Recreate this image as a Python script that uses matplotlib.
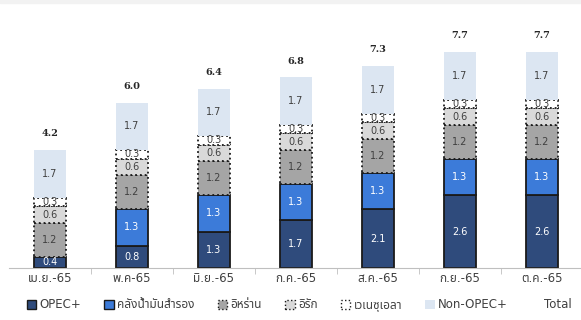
import numpy as np
import matplotlib.pyplot as plt
from matplotlib.patches import Patch

months = ['เม.ย.-65', 'พ.ค-65', 'มิ.ย.-65', 'ก.ค.-65', 'ส.ค.-65', 'ก.ย.-65', 'ต.ค.-65']
opec = [0.4, 0.8, 1.3, 1.7, 2.1, 2.6, 2.6]
reserve = [0.0, 1.3, 1.3, 1.3, 1.3, 1.3, 1.3]
iran = [1.2, 1.2, 1.2, 1.2, 1.2, 1.2, 1.2]
iraq = [0.6, 0.6, 0.6, 0.6, 0.6, 0.6, 0.6]
venezuela = [0.3, 0.3, 0.3, 0.3, 0.3, 0.3, 0.3]
non_opec = [1.7, 1.7, 1.7, 1.7, 1.7, 1.7, 1.7]
totals = [4.2, 6.0, 6.4, 6.8, 7.3, 7.7, 7.7]

names = ['OPEC+', 'คลังน้ำมันสำรอง', 'อิหร่าน', 'อิรัก', 'เวเนซุเอลา', 'Non-OPEC+', 'Total']

plt.rcParams['font.family'] = ['DejaVu Sans', 'Noto Sans Thai', 'Tahoma', 'Loma', 'Garuda', 'Noto Sans']

series = [
    # values, face, edge, linestyle, text colour
    (opec, '#2F4B7C', '#1a1a1a', '-', 'white'),
    (reserve, '#3C7BD9', '#1a1a1a', '-', 'white'),
    (iran, '#A5A5A5', '#1a1a1a', ':', '#404040'),
    (iraq, '#D9D9D9', '#1a1a1a', ':', '#404040'),
    (venezuela, '#FFFFFF', '#1a1a1a', ':', '#404040'),
    (non_opec, '#DCE6F2', 'none', '-', '#404040'),
]

fig = plt.figure(figsize=(5.81, 3.2), dpi=100)
ax = fig.add_axes([9 / 581, 52 / 320, 574 / 581, 258 / 320])
x = np.arange(len(months))
w = 0.4
bottom = np.zeros(len(months))
handles = []
for (vals, fc, ec, ls, tc), name in zip(series, names):
    vals = np.array(vals)
    lw = [0 if v == 0 else 1.3 for v in vals]
    if ec == 'none':
        lw = 0
    ax.bar(x, vals, w, bottom=bottom, color=fc, edgecolor=ec, linewidth=lw, linestyle=ls)
    for xi, b, v in zip(x, bottom, vals):
        if v > 0:
            ax.text(xi, b + v / 2, f'{v:.1f}', ha='center', va='center', fontsize=7, color=tc)
    bottom += vals
    handles.append(Patch(facecolor=fc, edgecolor=ec, linestyle=ls, linewidth=1.0 if ec != 'none' else 0, label=name))

for xi, b, t in zip(x, bottom, totals):
    ax.text(xi, b + 0.42, f'{t:.1f}', ha='center', va='bottom', fontsize=7, fontweight='bold', color='#262626',
            family='DejaVu Serif')

handles.append(Patch(facecolor='none', edgecolor='none', label='Total'))

ax.set_xlim(-0.5, 6.5)
ax.set_ylim(0, 9.2)
ax.set_xticks(x)
ax.set_xticklabels(months, fontsize=8.5, color='#404040')
ax.set_xticks(np.arange(0.5, 6.5, 1), minor=True)
ax.tick_params(axis='x', which='major', length=0, pad=3)
ax.tick_params(axis='x', which='minor', length=4, color='#BFBFBF')
ax.set_yticks([])
for s in ['top', 'right', 'left']:
    ax.spines[s].set_visible(False)
ax.spines['bottom'].set_color('#BFBFBF')

fig.legend(handles=handles, loc='center', bbox_to_anchor=(0.515, 15 / 320), ncol=7, frameon=False,
           fontsize=8.5, handlelength=0.8, handleheight=0.8, handletextpad=0.3, columnspacing=1.95,
           labelcolor='#404040')

fig.patches.append(plt.Rectangle((0, 317 / 320), 1, 3 / 320, transform=fig.transFigure, color='#F2F2F2'))

fig.savefig('out.png', dpi=100)
